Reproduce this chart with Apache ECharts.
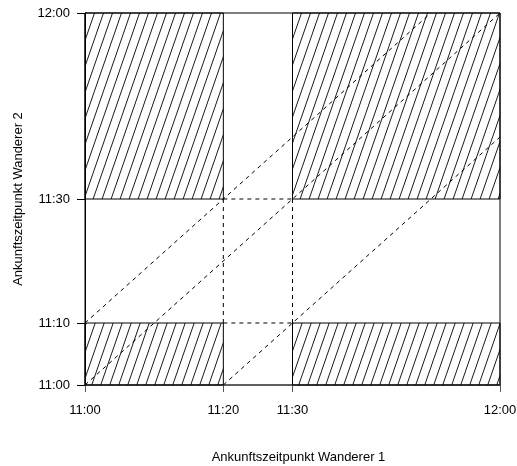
<!DOCTYPE html>
<html>
<head>
<meta charset="utf-8">
<script src="https://cdn.jsdelivr.net/npm/echarts@6/dist/echarts.min.js"></script>
<style>
  html, body { margin: 0; padding: 0; background: #fff; }
  #chart { width: 517px; height: 466px; }
</style>
</head>
<body>
<div id="chart"></div>
<script>
// Minutes after 11:00
const xTickValues = [0, 20, 30, 60];
const xTickLabels = ['11:00', '11:20', '11:30', '12:00'];
const yTickValues = [0, 10, 30, 60];
const yTickLabels = ['11:00', '11:10', '11:30', '12:00'];

// Hatched regions: [xFrom, xTo, yFrom, yTo]
const hatchedRegions = [
  [0, 20, 0, 10],
  [30, 60, 0, 10],
  [0, 20, 30, 60],
  [30, 60, 30, 60]
];

// Dashed diagonals
const diagUpper = [[0, 10], [50, 60]];
const diagMiddle = [[0, 0], [60, 60]];
const diagLower = [[20, 0], [60, 40]];

// Dashed guides around the middle window
const guideLeft = [[20, 10], [20, 30]];
const guideRight = [[30, 10], [30, 30]];
const guideBottom = [[20, 10], [30, 10]];
const guideTop = [[20, 30], [30, 30]];

// Steep diagonal hatching tile
function makeHatch() {
  const w = 9, h = 26;
  const c = document.createElement('canvas');
  c.width = w; c.height = h;
  const ctx = c.getContext('2d');
  ctx.strokeStyle = '#000';
  ctx.lineWidth = 0.9;
  for (let k = -1; k <= 1; k++) {
    ctx.beginPath();
    ctx.moveTo(k * w, h);
    ctx.lineTo((k + 1) * w, 0);
    ctx.stroke();
  }
  return { image: c, repeat: 'repeat' };
}
const hatch = makeHatch();

function labelFor(values, labels) {
  return function (v) {
    const i = values.indexOf(v);
    return i >= 0 ? labels[i] : '';
  };
}

function dashed(data) {
  return {
    type: 'line',
    data: data,
    symbol: 'none',
    silent: true,
    z: 5,
    lineStyle: { color: '#000', width: 1, type: [4, 4] }
  };
}

const chart = echarts.init(document.getElementById('chart'));
chart.setOption({
  animation: false,
  backgroundColor: '#fff',
  textStyle: { fontFamily: 'Liberation Sans, Arial, sans-serif' },
  grid: {
    left: 85, right: 17, top: 13, bottom: 81,
    outerBoundsMode: 'none',
    containLabel: false,
    show: true, borderColor: '#000', borderWidth: 1, backgroundColor: 'transparent'
  },
  xAxis: {
    type: 'value', min: 0, max: 60, interval: 10,
    name: 'Ankunftszeitpunkt Wanderer 1',
    nameLocation: 'middle', nameGap: 66,
    nameTextStyle: { color: '#000', fontSize: 13, padding: [0, 0, 0, 12] },
    axisLine: { show: true, lineStyle: { color: '#555', width: 1.5 } },
    axisTick: { show: true, length: 7, customValues: xTickValues, lineStyle: { color: '#555' } },
    axisLabel: {
      customValues: xTickValues, margin: 19, color: '#000', fontSize: 13,
      formatter: labelFor(xTickValues, xTickLabels)
    },
    splitLine: { show: false }
  },
  yAxis: {
    type: 'value', min: 0, max: 60, interval: 10,
    name: 'Ankunftszeitpunkt Wanderer 2',
    nameLocation: 'middle', nameGap: 60,
    nameTextStyle: { color: '#000', fontSize: 13 },
    axisLine: { show: true, lineStyle: { color: '#000', width: 1 } },
    axisTick: { show: true, length: 8, customValues: yTickValues, lineStyle: { color: '#000' } },
    axisLabel: {
      customValues: yTickValues, margin: 15, color: '#000', fontSize: 13,
      formatter: labelFor(yTickValues, yTickLabels)
    },
    splitLine: { show: false }
  },
  series: [
    {
      type: 'custom',
      silent: true,
      z: 2,
      data: hatchedRegions,
      renderItem: function (params, api) {
        const p0 = api.coord([api.value(0), api.value(2)]);
        const p1 = api.coord([api.value(1), api.value(3)]);
        return {
          type: 'rect',
          shape: { x: p0[0], y: p1[1], width: p1[0] - p0[0], height: p0[1] - p1[1] },
          style: { fill: hatch, stroke: '#000', lineWidth: 1 }
        };
      }
    },
    dashed(diagUpper),
    dashed(diagMiddle),
    dashed(diagLower),
    dashed(guideLeft),
    dashed(guideRight),
    dashed(guideBottom),
    dashed(guideTop)
  ]
});
</script>
</body>
</html>
